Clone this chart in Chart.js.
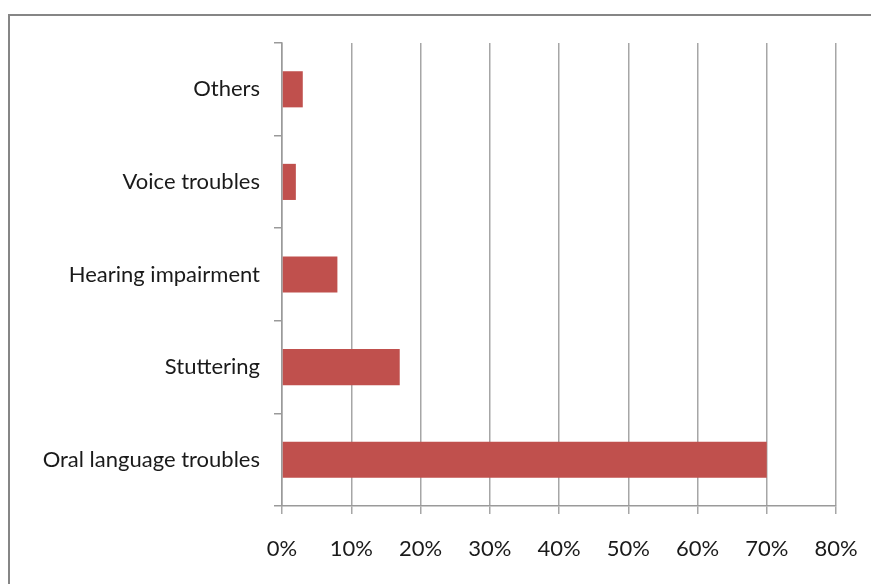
<!DOCTYPE html>
<html>
<head>
<meta charset="utf-8">
<script src="https://cdn.jsdelivr.net/npm/chart.js@4"></script>
<style>
  html, body { margin: 0; padding: 0; background: #fff; }
  #wrap { position: relative; width: 871px; height: 584px; overflow: hidden; }
  #frame {
    position: absolute; left: 8px; top: 14px; width: 900px; height: 600px;
    border-top: 2px solid #868686; border-left: 2px solid #868686;
  }
  canvas { position: absolute; left: 0; top: 0; }
</style>
</head>
<body>
<div id="wrap">
  <div id="frame"></div>
  <canvas id="chart" width="871" height="584"></canvas>
</div>
<script>
const categories = ["Others", "Voice troubles", "Hearing impairment", "Stuttering", "Oral language troubles"];
const shares = [3, 2, 8, 17, 70];
const xTicks = [0, 10, 20, 30, 40, 50, 60, 70, 80];

const font = { family: "Lato, 'Open Sans', sans-serif", size: 22 };

const ctx = document.getElementById("chart").getContext("2d");
new Chart(ctx, {
  type: "bar",
  data: {
    labels: categories,
    datasets: [{
      data: shares,
      backgroundColor: "#c0504d",
      borderWidth: 0,
      barPercentage: 0.39,
      categoryPercentage: 1
    }]
  },
  options: {
    indexAxis: "y",
    responsive: false,
    animation: false,
    layout: { padding: { top: 43, right: 35, left: 0, bottom: 0 } },
    plugins: { legend: { display: false }, tooltip: { enabled: false } },
    scales: {
      x: {
        min: 0,
        max: 80,
        afterBuildTicks: (scale) => { scale.ticks = xTicks.map(v => ({ value: v })); },
        afterFit: (scale) => {
          scale.height = 78;
          // keep the 80% label from pulling the plot edge in
          scale.paddingLeft = 0;
          scale.paddingRight = 0;
        },
        border: { color: "#9a9a9a", width: 1.5 },
        grid: { color: "#a6a6a6", lineWidth: 1.5, tickLength: 8 },
        ticks: { color: "#1a1a1a", font, padding: 22, callback: (v) => v + "%" }
      },
      y: {
        afterFit: (scale) => { scale.width = 282; },
        border: { color: "#9a9a9a", width: 1.5 },
        grid: { color: "#9a9a9a", lineWidth: 1.5, drawOnChartArea: false, tickLength: 8 },
        ticks: { color: "#1a1a1a", font, padding: 14 }
      }
    }
  }
});
</script>
</body>
</html>
